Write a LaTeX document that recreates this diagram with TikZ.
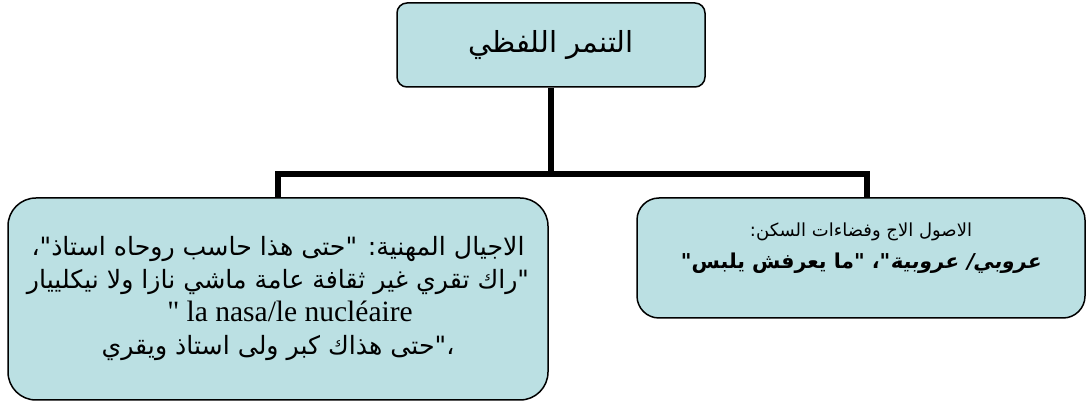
\documentclass[tikz,border=0pt]{standalone}
\usepackage{fontspec}
\setmainfont{Liberation Serif}
\newfontfamily\latinfont{Liberation Serif}
\newfontfamily\arabicfont[Script=Arabic]{DejaVu Sans}
\newfontfamily\arabicbold[Script=Arabic]{DejaVu Sans Bold}
\newfontfamily\arabicboldsl[Script=Arabic,FakeSlant=0.2]{DejaVu Sans Bold}
\TeXXeTstate=1
\definecolor{boxfill}{RGB}{187,224,227}

\begin{document}
\begin{tikzpicture}[x=1pt,y=-1pt,
  box/.style={draw=black, line width=1.5pt, fill=boxfill, align=center, inner sep=0pt},
  conn/.style={black, line width=5.5pt}]

\useasboundingbox (0,0) rectangle (1088,403);

\node[box, rounded corners=10pt, minimum width=308pt, minimum height=84pt,
  font=\fontsize{29}{34}\arabicfont] (top) at (551,45)
  {\beginR التنمر اللفظي\endR};

\node[box, rounded corners=28pt, minimum width=540pt, minimum height=202pt,
  font=\fontsize{25.2}{33}\arabicfont] (left) at (278,299)
  {\beginR الاجيال المهنية: "حتى هذا حاسب روحاه استاذ"،\endR\\
   \beginR "راك تقري غير ثقافة عامة ماشي نازا ولا نيكلييار\endR\\
   \hspace*{24pt}{\fontsize{29.5}{33}\latinfont " la nasa/le nucléaire}\\
   \beginR ،"حتى هذاك كبر ولى استاذ ويقري\endR};

\node[box, rounded corners=22pt, minimum width=448pt, minimum height=120pt] (right) at (861,258) {};
\node[align=center, font=\fontsize{18}{32}\arabicfont] (righttext) at ([yshift=10pt]right.center)
  {\beginR الاصول الاج وفضاءات السكن:\endR\\
   \fontsize{20.5}{32}\beginR{\arabicboldsl عروبي/ عروبية}{\arabicbold "، "ما يعرفش يلبس"}\endR};

\coordinate (mid) at (551,174);

\draw[conn] (top) -- (mid);
\draw[conn] (left.north) |- (mid) -| ([xshift=6pt]right.north);

\end{tikzpicture}
\end{document}
